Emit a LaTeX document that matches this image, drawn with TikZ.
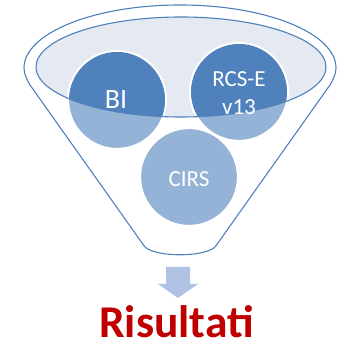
\documentclass[tikz,border=0pt]{standalone}
\usepackage{fontspec}
\setmainfont{Carlito}
\definecolor{dark}{HTML}{4F81BD}
\definecolor{light}{HTML}{95B3D7}
\definecolor{ellfill}{HTML}{E4E9F2}
\definecolor{arrowc}{HTML}{AFC2E3}
\definecolor{redtxt}{HTML}{C00000}
\tikzset{
  edge/.style={draw=dark, line width=1.1pt},
  bubble/.style={fill=light, draw=white, line width=2.2pt},
  lbl/.style={text=white, align=center, inner sep=0pt}
}
\begin{document}
\begin{tikzpicture}[x=1pt,y=-1pt]
\useasboundingbox (0,0) rectangle (345,344);
% outer funnel
\draw[edge, fill=white] (24,68) arc[start angle=180, end angle=360, x radius=156, y radius=63]
  .. controls (336,74) and (333,80) .. (330,85)
  -- (216.5,245) .. controls (210,258) and (150,258) .. (143.5,245)
  -- (30,85) .. controls (27,80) and (24,74) .. (24,68) -- cycle;
% inner ellipse fill
\fill[ellfill] (181,67) ellipse[x radius=145, y radius=50];
% circles
\coordinate (cBI) at (117,100);
\coordinate (cRCS) at (239,92);
\coordinate (cCIRS) at (189,177);
\draw[bubble] (cBI) circle[radius=49];
\draw[bubble] (cRCS) circle[radius=49];
\draw[bubble] (cCIRS) circle[radius=49];
\begin{scope}
  \clip (181,67) ellipse[x radius=145, y radius=50];
  \fill[dark] (cBI) circle[radius=48];
  \fill[dark] (cRCS) circle[radius=48];
\end{scope}
\draw[edge] (181,67) ellipse[x radius=145, y radius=50];
\node[lbl, font=\fontsize{28}{30}\selectfont] (bi) at (116,100) {BI};
\node[lbl, font=\fontsize{23}{28}\selectfont] (rcs) at (239,93) {RCS-E\\v13};
\node[lbl, font=\fontsize{23}{27}\selectfont] (cirs) at (189,179) {CIRS};
% arrow
\fill[arrowc] (166,267) -- (190,267) -- (190,284) -- (198,284) -- (178,298) -- (158,284) -- (166,284) -- cycle;
\node[text=redtxt, font=\fontsize{45.5}{47}\selectfont\bfseries, inner sep=0pt, text depth=0pt, anchor=base] (res) at (176.5,337.5) {Risultati};
\end{tikzpicture}
\end{document}
